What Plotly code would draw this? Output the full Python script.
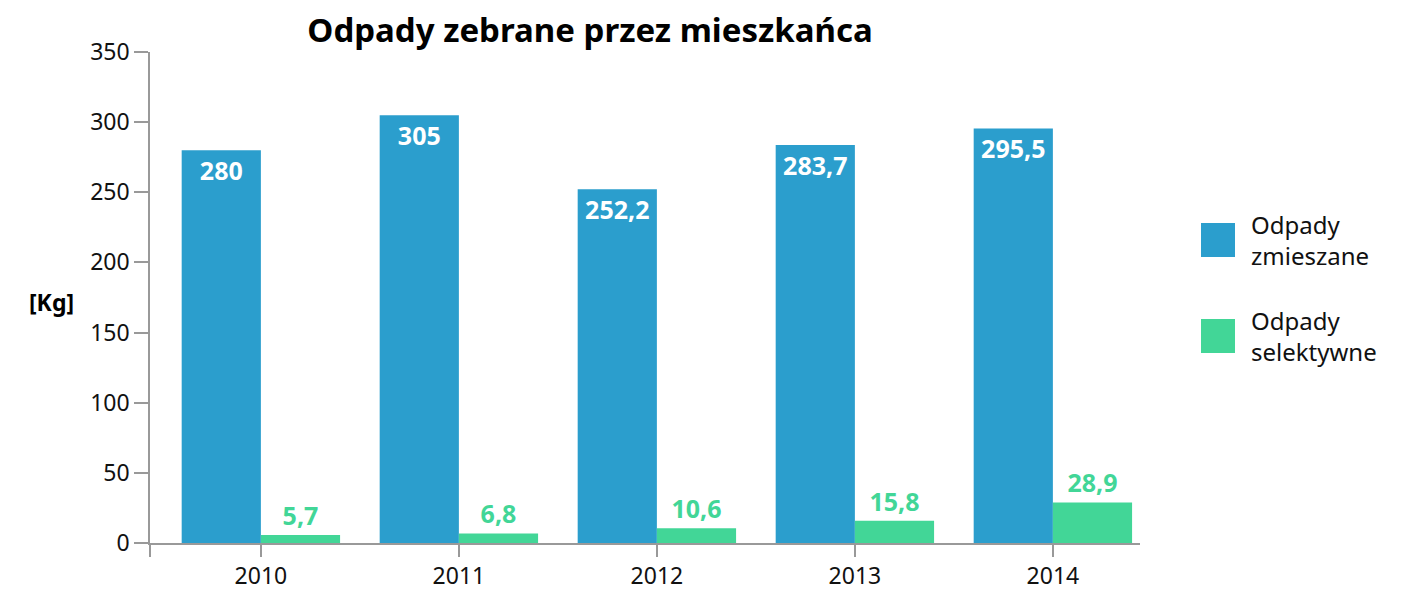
import plotly.graph_objects as go

years = ["2010", "2011", "2012", "2013", "2014"]
mixed = [280, 305, 252.2, 283.7, 295.5]
selective = [5.7, 6.8, 10.6, 15.8, 28.9]
series_names = ["Odpady<br>zmieszane", "Odpady<br>selektywne"]
title = "Odpady zebrane przez mieszkańca"
y_label = "[Kg]"
y_ticks = [0, 50, 100, 150, 200, 250, 300, 350]

BLUE = "#2b9ecd"
GREEN = "#42d697"
FONT = "Noto Sans"

def fmt(v):
    return f"{v:g}".replace(".", ",")

xpos = list(range(len(years)))

fig = go.Figure()
fig.add_trace(go.Bar(
    x=xpos, y=mixed, width=0.4, offset=-0.4,
    marker=dict(color=BLUE, line=dict(width=0)),
    text=[fmt(v) for v in mixed], textposition="inside", insidetextanchor="end",
    textfont=dict(color="white", size=25, family=FONT, weight="bold"),
    showlegend=False, cliponaxis=False, hoverinfo="skip",
))
fig.add_trace(go.Bar(
    x=xpos, y=selective, width=0.4, offset=0,
    marker=dict(color=GREEN, line=dict(width=0)),
    text=[fmt(v) for v in selective], textposition="outside",
    textfont=dict(color=GREEN, size=25, family=FONT, weight="bold"),
    showlegend=False, cliponaxis=False, hoverinfo="skip",
))

L, R, T, B = 150, 271, 52, 49
W, H = 1411, 592
xmin, xmax = -0.56, 4.44

fig.update_layout(
    width=W, height=H,
    margin=dict(l=L, r=R, t=T, b=B, pad=0, autoexpand=False),
    plot_bgcolor="white", paper_bgcolor="white",
    font=dict(family=FONT, color="#111111", size=23),
    title=dict(text=title, x=590 / W, xref="container", xanchor="center",
               y=1 - 30 / H, yref="container", yanchor="middle",
               font=dict(size=33, family=FONT, color="#000000", weight="bold")),
    barmode="overlay",
    xaxis=dict(range=[xmin, xmax], tickmode="array",
               tickvals=[xmin] + xpos, ticktext=[""] + years, automargin=False,
               showgrid=False, zeroline=False, showline=True, linecolor="#999999", linewidth=1.5,
               ticks="outside", ticklen=12, tickcolor="#999999", tickwidth=1.5,
               tickfont=dict(size=23, color="#111111"), fixedrange=True),
    yaxis=dict(range=[0, 350], tickmode="array", tickvals=y_ticks, automargin=False,
               showgrid=False, zeroline=False, showline=True, linecolor="#999999", linewidth=1.5,
               ticks="outside", ticklen=14, tickcolor="#999999", tickwidth=1.5,
               tickfont=dict(size=23, color="#111111"), fixedrange=True),
)

pw, ph = W - L - R, H - T - B
def px_x(x):
    return (x - L) / pw
def px_y(y):
    return (H - B - y) / ph

# y-axis label
fig.add_annotation(text=f"<b>{y_label}</b>", xref="paper", yref="paper",
                   x=px_x(51), y=px_y(302),
                   xanchor="center", yanchor="middle", showarrow=False,
                   font=dict(size=23, color="#000000"))

# custom legend
colors = [BLUE, GREEN]
tops = [223, 319]
for name, col, top in zip(series_names, colors, tops):
    fig.add_shape(type="rect", xref="paper", yref="paper",
                  x0=px_x(1201), x1=px_x(1235), y0=px_y(top + 34), y1=px_y(top),
                  fillcolor=col, line=dict(width=0))
    fig.add_annotation(text=name, xref="paper", yref="paper",
                       x=px_x(1249), y=px_y(top + 17), xanchor="left", yanchor="middle",
                       align="left", showarrow=False,
                       font=dict(size=24, color="#111111"))

fig.write_html("out.html", config={"displayModeBar": False},
               post_script="document.body.style.margin='0px';document.body.style.padding='0px';")
